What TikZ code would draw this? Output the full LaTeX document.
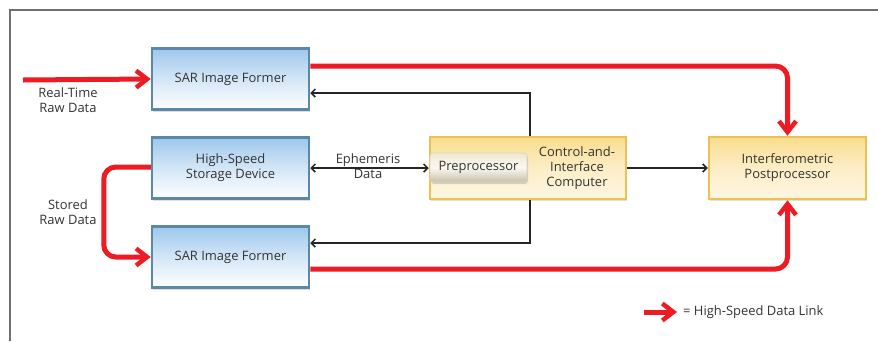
\documentclass[tikz,border=0pt]{standalone}
\usepackage{fontspec}
\setmainfont{Open Sans}
\usetikzlibrary{arrows.meta,shadows,calc}
\definecolor{txt}{HTML}{333333}
\definecolor{redl}{HTML}{ED1C24}
\definecolor{frame}{HTML}{707070}
\definecolor{blueedge}{HTML}{5A88A6}
\definecolor{bluetop}{HTML}{9DC8EC}
\definecolor{yedge}{HTML}{EDC050}
\definecolor{ytop}{HTML}{F9DC8C}
\definecolor{pretop}{HTML}{EFE8D2}
\definecolor{prebot}{HTML}{C8C0A8}
\tikzset{
  lbl/.style={font=\fontsize{13}{15}\selectfont, text=txt, align=center, inner sep=0},
  bluebox/.style={lbl, draw=blueedge, line width=2.5bp, top color=bluetop, bottom color=white, middle color=bluetop!45, minimum width=157bp, minimum height=61bp, drop shadow={opacity=0.25, shadow xshift=1bp, shadow yshift=-2bp}},
  yelbox/.style={lbl, draw=yedge, line width=2.5bp, top color=ytop, bottom color=white!75!ytop, middle color=ytop!50, minimum width=196bp, minimum height=62bp, drop shadow={opacity=0.25, shadow xshift=1bp, shadow yshift=-2bp}},
  prebox/.style={lbl, draw=prebot!70, line width=0.6bp, rounded corners=3bp, top color=pretop, bottom color=prebot, middle color=white!70!pretop, minimum width=97bp, minimum height=29bp, drop shadow={opacity=0.3, shadow xshift=1bp, shadow yshift=-2bp}},
  hslink/.style={draw=redl, line width=5bp, rounded corners=12bp, -{Straight Barb[length=11bp,width=17bp,line width=4.5bp]}},
  ctl/.style={draw=black!85, line width=1.5bp, -{Straight Barb[length=4bp,width=8bp,line width=1.5bp]}},
}
\begin{document}
\begin{tikzpicture}[x=1bp,y=-1bp]
\useasboundingbox (0,0) rectangle (878,341);
\draw[frame, line width=1.5bp] (10,341) -- (10,10) -- (878,10);

\node[bluebox] (sar1) at (230.5,79) {SAR Image Former};
\node[bluebox] (hs) at (230.5,168) {High-Speed\\Storage Device};
\node[bluebox] (sar2) at (230.5,257) {SAR Image Former};
\node[yelbox] (cic) at (528,168) {};
\node[prebox] (pre) at (478.5,167.5) {Preprocessor};
\node[lbl] (cictext) at (577,168) {Control-and-\\Interface\\Computer};
\node[yelbox, minimum width=157bp] (post) at (787.5,168) {Interferometric\\Postprocessor};

\node[lbl] (rt) at (68,100.5) {Real-Time\\Raw Data};
\node[lbl] (st) at (68,212.5) {Stored\\Raw Data};
\node[lbl] (eph) at (368,166.5) {Ephemeris\\Data};

\coordinate (rtstart) at (23,80);
\draw[hslink] (rtstart) -- (sar1.west);
\draw[hslink] ([yshift=13bp]sar1.east) -| (post.north);
\draw[hslink] ([yshift=-12bp]sar2.east) -| (post.south);
\draw[hslink] ([yshift=1bp]hs.west) -- ++(-47,0) |- (sar2.west);

\draw[ctl] ([xshift=2bp]cic.north) |- ([yshift=-14bp]sar1.east);
\draw[ctl] ([xshift=2bp]cic.south) |- ([yshift=14bp]sar2.east);
\draw[ctl, {Straight Barb[length=4bp,width=8bp,line width=1.5bp]}-{Straight Barb[length=4bp,width=8bp,line width=1.5bp]}] (hs.east) -- (cic.west);
\draw[ctl] (cic.east) -- (post.west);

\coordinate (lg1) at (644,312);
\coordinate (lg2) at (677,312);
\draw[hslink] (lg1) -- (lg2);
\node[lbl, anchor=west] (lgt) at (683,312) {= High-Speed Data Link};
\end{tikzpicture}
\end{document}
